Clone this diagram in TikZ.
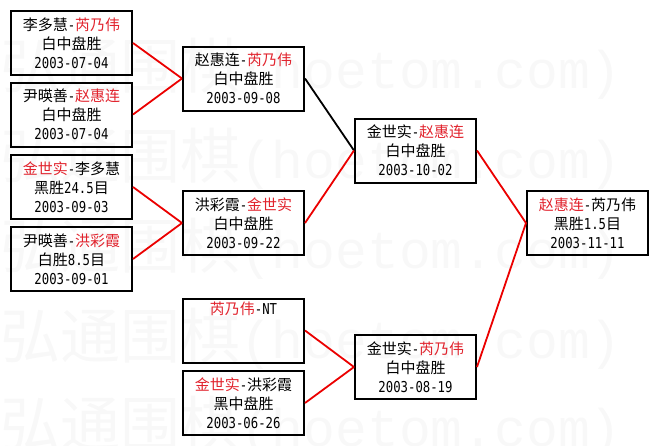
\documentclass[tikz,border=0pt]{standalone}
\usepackage{fontspec}
\setmainfont[FakeStretch=0.82]{DejaVu Sans Mono}
\newfontfamily\cjk{Noto Sans CJK SC}
\newfontfamily\wmzh{Noto Sans CJK SC}
\newfontfamily\wmas{Liberation Mono}
\definecolor{winred}{RGB}{225,35,45}
\definecolor{linered}{RGB}{235,0,0}
\definecolor{wm}{RGB}{248,248,248}
\newcommand\zh[1]{{\cjk #1}}
\newcommand\rz[1]{{\cjk\color{winred}#1}}
\tikzset{
  box/.style={draw=black, line width=2pt, minimum width=121pt, minimum height=64pt,
    inner sep=0pt, align=center, font=\fontsize{15}{19}\selectfont},
  win/.style={draw=linered, line width=1.8pt},
  lose/.style={draw=black, line width=1.8pt},
  wmark/.style={anchor=base east, text=wm, inner sep=0pt}
}
\begin{document}
\begin{tikzpicture}[x=1pt,y=-1pt]
\useasboundingbox (0,0) rectangle (659,445);
\begin{scope}
\clip (0,0) rectangle (659,445);
\foreach \yy in {88,178,268,358,446}{
  \node[wmark] at (622,\yy) {{\wmzh\fontsize{60}{60}\selectfont 弘通围棋}{\wmas\fontsize{53}{53}\selectfont (hoetom.com)}};
}
\end{scope}
% round 1
\node[box] (b1) at (71.5,43) {\zh{李多慧}-\rz{芮乃伟}\\ \zh{白中盘胜}\\ 2003-07-04};
\node[box] (b2) at (71.5,114.5) {\zh{尹暎善}-\rz{赵惠连}\\ \zh{白中盘胜}\\ 2003-07-04};
\node[box] (b3) at (71.5,187) {\rz{金世实}-\zh{李多慧}\\ \zh{黑胜}24.5\zh{目}\\ 2003-09-03};
\node[box] (b4) at (71.5,259) {\zh{尹暎善}-\rz{洪彩霞}\\ \zh{白胜}8.5\zh{目}\\ 2003-09-01};
% round 2
\node[box] (ba) at (243.5,78.5) {\zh{赵惠连}-\rz{芮乃伟}\\ \zh{白中盘胜}\\ 2003-09-08};
\node[box] (bb) at (243.5,223) {\zh{洪彩霞}-\rz{金世实}\\ \zh{白中盘胜}\\ 2003-09-22};
\node[box] (b7) at (243.5,330.5) {\rz{芮乃伟}-NT\\ \strut\\ \strut};
\node[box] (b8) at (243.5,403) {\rz{金世实}-\zh{洪彩霞}\\ \zh{黑中盘胜}\\ 2003-06-26};
% round 3
\node[box] (bc) at (415.5,150.5) {\zh{金世实}-\rz{赵惠连}\\ \zh{白中盘胜}\\ 2003-10-02};
\node[box] (bd) at (415.5,367) {\zh{金世实}-\rz{芮乃伟}\\ \zh{白中盘胜}\\ 2003-08-19};
% final
\node[box] (bf) at (587.5,223) {\rz{赵惠连}-\zh{芮乃伟}\\ \zh{黑胜}1.5\zh{目}\\ 2003-11-11};
% connectors
\draw[win] (b1.east) -- (ba.west);
\draw[win] (b2.east) -- (ba.west);
\draw[win] (b3.east) -- (bb.west);
\draw[win] (b4.east) -- (bb.west);
\draw[win] (b7.east) -- (bd.west);
\draw[win] (b8.east) -- (bd.west);
\draw[lose] (ba.east) -- (bc.west);
\draw[win] (bb.east) -- (bc.west);
\draw[win] (bc.east) -- (bf.west);
\draw[win] (bd.east) -- (bf.west);
\end{tikzpicture}
\end{document}
